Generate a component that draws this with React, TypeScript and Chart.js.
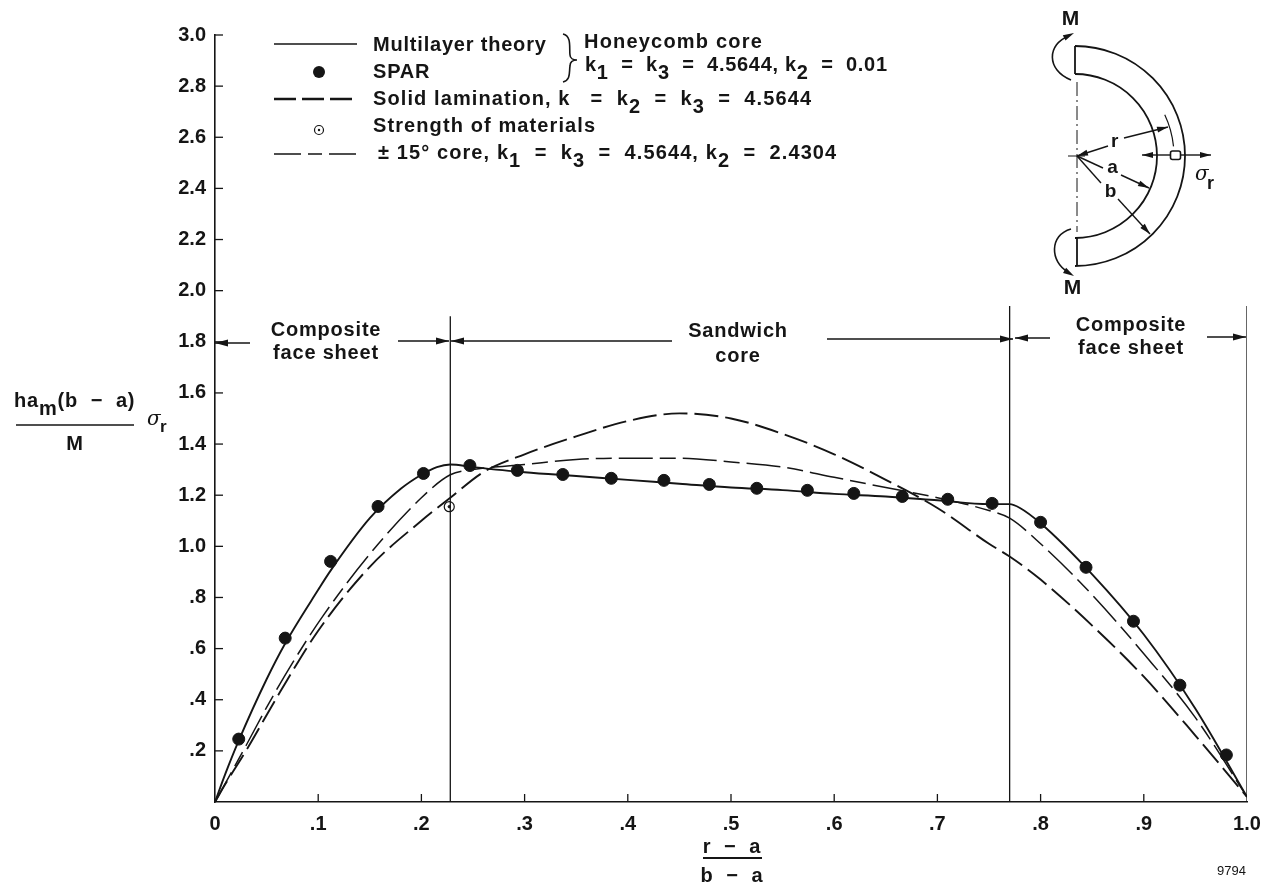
import React, { useEffect, useRef } from "react";
import { Chart, registerables } from "chart.js";

Chart.register(...registerables);

const sparX = [0.023, 0.068, 0.112, 0.158, 0.202, 0.247, 0.293, 0.337, 0.384, 0.435, 0.479, 0.525, 0.574, 0.619, 0.666, 0.71, 0.753, 0.8, 0.844, 0.89, 0.935, 0.98];
const sparY = [0.246, 0.641, 0.941, 1.156, 1.285, 1.316, 1.297, 1.281, 1.266, 1.258, 1.242, 1.227, 1.219, 1.207, 1.195, 1.184, 1.168, 1.094, 0.918, 0.707, 0.457, 0.184];

const multiX = [0, 0.01, 0.023, 0.05, 0.068, 0.1, 0.112, 0.15, 0.18, 0.2, 0.215, 0.228, 0.25, 0.3, 0.35, 0.4, 0.45, 0.5, 0.55, 0.6, 0.65, 0.7, 0.75, 0.77, 0.78, 0.8, 0.85, 0.9, 0.95, 1];
const multiY = [0, 0.11, 0.24, 0.48, 0.62, 0.83, 0.905, 1.11, 1.225, 1.28, 1.31, 1.32, 1.31, 1.29, 1.275, 1.26, 1.245, 1.23, 1.22, 1.205, 1.195, 1.18, 1.165, 1.165, 1.15, 1.09, 0.89, 0.655, 0.365, 0.02];

const solidX = [0, 0.01, 0.03, 0.063, 0.1, 0.15, 0.2, 0.228, 0.26, 0.3, 0.35, 0.4, 0.45, 0.5, 0.55, 0.6, 0.65, 0.7, 0.75, 0.77, 0.8, 0.85, 0.9, 0.95, 1];
const solidY = [0, 0.07, 0.2, 0.43, 0.67, 0.92, 1.1, 1.19, 1.29, 1.36, 1.43, 1.49, 1.52, 1.5, 1.44, 1.36, 1.26, 1.15, 1.01, 0.96, 0.87, 0.69, 0.49, 0.26, 0.02];

const coreX = [0, 0.03, 0.05, 0.076, 0.105, 0.15, 0.2, 0.228, 0.25, 0.3, 0.35, 0.4, 0.45, 0.5, 0.55, 0.6, 0.65, 0.7, 0.75, 0.77, 0.8, 0.85, 0.9, 0.95, 1];
const coreY = [0, 0.22, 0.37, 0.55, 0.73, 0.97, 1.19, 1.28, 1.3, 1.32, 1.34, 1.345, 1.345, 1.33, 1.31, 1.27, 1.23, 1.19, 1.14, 1.11, 1.01, 0.81, 0.58, 0.33, 0.02];

const strengthX = [0.227];
const strengthY = [1.155];

const boundaryX = [0.228, 0.77, 1];
const boundaryTop = [1.9, 1.94, 1.94];

const INK = "#151515";
const FONT = '"Liberation Sans"';

const zip = (xs: number[], ys: number[]) => xs.map((x, i) => ({ x, y: ys[i] }));

type Seg = [string, boolean?];

function textSegs(ctx: CanvasRenderingContext2D, x: number, y: number, segs: Seg[], ls = "0.8px", size = 20, weight = "bold") {
  ctx.save();
  ctx.fillStyle = INK;
  ctx.textAlign = "left";
  ctx.textBaseline = "middle";
  ctx.font = `${weight} ${size}px ${FONT}`;
  (ctx as any).letterSpacing = ls;
  let cx = x;
  for (const [s, sub] of segs) {
    ctx.fillText(s, cx, sub ? y + 8 : y);
    cx += ctx.measureText(s).width;
  }
  ctx.restore();
}

function centered(ctx: CanvasRenderingContext2D, s: string, x: number, y: number, size = 20) {
  ctx.save();
  ctx.fillStyle = INK;
  ctx.textAlign = "center";
  ctx.textBaseline = "middle";
  ctx.font = `bold ${size}px ${FONT}`;
  (ctx as any).letterSpacing = "0.8px";
  ctx.fillText(s, x, y);
  ctx.restore();
}

function line(ctx: CanvasRenderingContext2D, x1: number, y1: number, x2: number, y2: number, w = 1.4, dash: number[] = []) {
  ctx.save();
  ctx.strokeStyle = INK;
  ctx.lineWidth = w;
  ctx.setLineDash(dash);
  ctx.beginPath();
  ctx.moveTo(x1, y1);
  ctx.lineTo(x2, y2);
  ctx.stroke();
  ctx.restore();
}

function head(ctx: CanvasRenderingContext2D, x: number, y: number, fromX: number, fromY: number, len = 13, half = 3.5) {
  const a = Math.atan2(y - fromY, x - fromX);
  ctx.save();
  ctx.fillStyle = INK;
  ctx.translate(x, y);
  ctx.rotate(a);
  ctx.beginPath();
  ctx.moveTo(0, 0);
  ctx.lineTo(-len, -half);
  ctx.lineTo(-len, half);
  ctx.closePath();
  ctx.fill();
  ctx.restore();
}

function arrow(ctx: CanvasRenderingContext2D, x1: number, y1: number, x2: number, y2: number, w = 1.4, len = 13, half = 3.5) {
  line(ctx, x1, y1, x2, y2, w);
  head(ctx, x2, y2, x1, y1, len, half);
}

const overlay = {
  id: "overlay",
  afterDraw(chart: any) {
    const ctx: CanvasRenderingContext2D = chart.ctx;
    const xs = chart.scales.x;
    const ys = chart.scales.y;
    const left = xs.left;
    const bottom = ys.bottom;

    // inward tick marks
    xs.ticks.forEach((t: any) => {
      if (t.value > 0 && t.value < 1) {
        const p = xs.getPixelForValue(t.value);
        line(ctx, p, bottom, p, bottom - 8, 1.3);
      }
    });
    ys.ticks.forEach((t: any) => {
      if (t.value > 0) {
        const p = ys.getPixelForValue(t.value);
        line(ctx, left, p, left + 8, p, 1.3);
      }
    });

    // legend
    line(ctx, 274, 44, 357, 44, 1.5);
    ctx.fillStyle = INK;
    ctx.beginPath();
    ctx.arc(319, 72, 6, 0, Math.PI * 2);
    ctx.fill();
    line(ctx, 274, 99, 357, 99, 2.6, [22, 6]);
    ctx.lineWidth = 1.2;
    ctx.strokeStyle = INK;
    ctx.beginPath();
    ctx.arc(319, 130, 4.5, 0, Math.PI * 2);
    ctx.stroke();
    ctx.beginPath();
    ctx.arc(319, 130, 1.2, 0, Math.PI * 2);
    ctx.fill();
    line(ctx, 274, 154, 357, 154, 1.5, [27, 7, 14, 7]);

    textSegs(ctx, 373, 45, [["Multilayer theory"]]);
    textSegs(ctx, 373, 72, [["SPAR"]]);
    textSegs(ctx, 373, 99, [["Solid lamination, k   =  k"], ["2", true], ["  =  k"], ["3", true], ["  =  4.5644"]], "1.1px");
    textSegs(ctx, 373, 126, [["Strength of materials"]], "1.1px");
    textSegs(ctx, 378, 153, [["\u00b1 15\u00b0 core, k"], ["1", true], ["  =  k"], ["3", true], ["  =  4.5644, k"], ["2", true], ["  =  2.4304"]], "1.1px");
    textSegs(ctx, 584, 42, [["Honeycomb core"]], "1.2px");
    textSegs(ctx, 585, 65, [["k"], ["1", true], ["  =  k"], ["3", true], ["  =  4.5644, k"], ["2", true], ["  =  0.01"]], "0.7px");

    // brace
    ctx.save();
    ctx.strokeStyle = INK;
    ctx.lineWidth = 1.6;
    ctx.beginPath();
    ctx.moveTo(563, 34);
    ctx.bezierCurveTo(572, 36, 569, 48, 570, 55);
    ctx.bezierCurveTo(570, 58, 573, 60, 577, 60);
    ctx.bezierCurveTo(573, 60, 570, 62, 570, 66);
    ctx.bezierCurveTo(569, 72, 571, 80, 563, 82);
    ctx.stroke();
    ctx.restore();

    // regions
    centered(ctx, "Composite", 326, 330);
    centered(ctx, "face sheet", 326, 353);
    centered(ctx, "Sandwich", 738, 331);
    centered(ctx, "core", 738, 356);
    centered(ctx, "Composite", 1131, 325);
    centered(ctx, "face sheet", 1131, 348);

    arrow(ctx, 250, 343, 215, 343);
    arrow(ctx, 398, 341, 449, 341);
    arrow(ctx, 672, 341, 451, 341);
    arrow(ctx, 827, 339, 1013, 339);
    arrow(ctx, 1050, 338, 1015, 338);
    arrow(ctx, 1207, 337, 1246, 337);

    // y title
    textSegs(ctx, 14, 401, [["ha"], ["m", true], ["(b  \u2212  a)"]]);
    line(ctx, 16, 425, 134, 425, 1.6);
    centered(ctx, "M", 75, 444);
    ctx.save();
    ctx.fillStyle = INK;
    ctx.textBaseline = "middle";
    ctx.font = 'italic 20px "DejaVu Serif"';
    ctx.fillText("\u03c3", 147, 420);
    ctx.font = `bold 17px ${FONT}`;
    ctx.fillText("r", 160, 427);
    ctx.restore();

    // x title
    centered(ctx, "r  \u2212  a", 732, 847);
    line(ctx, 703, 858, 762, 858, 1.8);
    centered(ctx, "b  \u2212  a", 732, 876);

    ctx.save();
    ctx.fillStyle = INK;
    ctx.textBaseline = "middle";
    ctx.font = `13px ${FONT}`;
    ctx.fillText("9794", 1217, 871);
    ctx.restore();

    // inset diagram
    const cx = 1077;
    const cy = 156;
    ctx.save();
    ctx.strokeStyle = INK;
    ctx.lineWidth = 1.8;
    ctx.beginPath();
    ctx.arc(cx - 2, cy, 110, -Math.PI / 2, Math.PI / 2);
    ctx.stroke();
    ctx.beginPath();
    ctx.arc(cx - 2, cy, 82, -Math.PI / 2, Math.PI / 2);
    ctx.stroke();
    ctx.lineWidth = 1.2;
    ctx.beginPath();
    ctx.arc(cx, cy, 97, -0.44, -0.1);
    ctx.stroke();
    ctx.restore();
    line(ctx, 1075, 46, 1075, 74, 1.8);
    line(ctx, 1077, 237, 1077, 266, 1.8);
    line(ctx, cx, 82, cx, 232, 1, [14, 4, 2, 4]);
    line(ctx, 1068, cy, 1085, cy, 1);

    // r, a, b leaders
    arrow(ctx, 1108, 146, cx, cy, 1.4, 11, 3);
    arrow(ctx, 1124, 138, 1168, 127, 1.4, 11, 3);
    line(ctx, cx, cy, 1103, 168, 1.4);
    arrow(ctx, 1121, 175, 1149, 188, 1.4, 11, 3);
    line(ctx, cx, cy, 1101, 183, 1.4);
    arrow(ctx, 1118, 199, 1150, 234, 1.4, 11, 3);
    centered(ctx, "r", 1115, 142, 19);
    centered(ctx, "a", 1113, 168, 19);
    centered(ctx, "b", 1111, 192, 19);

    // stress element
    arrow(ctx, 1170, 155, 1142, 155, 1.4, 11, 3);
    arrow(ctx, 1180, 155, 1211, 155, 1.4, 11, 3);
    ctx.save();
    ctx.strokeStyle = INK;
    ctx.fillStyle = "#fff";
    ctx.lineWidth = 1.6;
    ctx.beginPath();
    ctx.roundRect(1170.5, 151, 10, 8.5, 2);
    ctx.fill();
    ctx.stroke();
    ctx.fillStyle = INK;
    ctx.textBaseline = "middle";
    ctx.font = 'italic 20px "DejaVu Serif"';
    ctx.fillText("\u03c3", 1195, 175);
    ctx.font = `bold 18px ${FONT}`;
    ctx.fillText("r", 1207, 184);
    ctx.restore();

    // moments
    centered(ctx, "M", 1071, 19, 21);
    centered(ctx, "M", 1073, 288, 21);
    ctx.save();
    ctx.strokeStyle = INK;
    ctx.lineWidth = 1.6;
    ctx.beginPath();
    ctx.moveTo(1071, 80);
    ctx.bezierCurveTo(1046, 70, 1047, 44, 1069, 36);
    ctx.stroke();
    ctx.beginPath();
    ctx.moveTo(1071, 229);
    ctx.bezierCurveTo(1049, 235, 1050, 262, 1068, 272);
    ctx.stroke();
    ctx.restore();
    head(ctx, 1074, 33, 1064, 38, 11, 3);
    head(ctx, 1074, 276, 1064, 270, 11, 3);
  },
};

export default function App() {
  const ref = useRef<HTMLCanvasElement>(null);
  useEffect(() => {
    const boundarySets = boundaryX.map((bx, i) => ({
      label: `boundary ${i}`,
      data: [{ x: bx, y: 0 }, { x: bx, y: boundaryTop[i] }],
      borderColor: INK,
      borderWidth: 1.3,
      pointRadius: 0,
      showLine: true,
    }));
    const chart = new Chart(ref.current as HTMLCanvasElement, {
      type: "scatter",
      data: {
        datasets: [
          { label: "Strength centre", data: zip(strengthX, strengthY), backgroundColor: INK, borderColor: INK, pointRadius: 1.2, showLine: false },
          { label: "Strength of materials", data: zip(strengthX, strengthY), backgroundColor: "rgba(0,0,0,0)", borderColor: INK, borderWidth: 1.2, pointRadius: 5, showLine: false },
          { label: "SPAR", data: zip(sparX, sparY), backgroundColor: INK, borderColor: INK, pointRadius: 6, showLine: false },
          ...boundarySets,
          { label: "Multilayer theory", data: zip(multiX, multiY), borderColor: INK, borderWidth: 1.9, pointRadius: 0, showLine: true, cubicInterpolationMode: "monotone" },
          { label: "Solid lamination", data: zip(solidX, solidY), borderColor: INK, borderWidth: 1.9, borderDash: [24, 7], pointRadius: 0, showLine: true, cubicInterpolationMode: "monotone" },
          { label: "\u00b1 15\u00b0 core", data: zip(coreX, coreY), borderColor: INK, borderWidth: 1.5, borderDash: [34, 7, 16, 7], pointRadius: 0, showLine: true, cubicInterpolationMode: "monotone" },
        ] as any,
      },
      options: {
        responsive: false,
        animation: false,
        layout: { padding: { left: 0, top: 35, right: 30, bottom: 0 } },
        plugins: { legend: { display: false }, tooltip: { enabled: false } },
        scales: {
          x: {
            type: "linear",
            min: 0,
            max: 1,
            grid: { display: false },
            border: { display: true, color: INK, width: 1.6 },
            afterFit: (s: any) => { s.height = 89; },
            ticks: {
              stepSize: 0.1,
              maxRotation: 0,
              autoSkip: false,
              padding: 2,
              color: INK,
              font: { family: FONT, weight: "bold", size: 20 },
              callback: (v: any) => {
                const n = Number(v);
                if (n === 0) return "0";
                if (n >= 1) return "1.0";
                return n.toFixed(1).replace(/^0/, "");
              },
            },
          },
          y: {
            type: "linear",
            min: 0,
            max: 3,
            grid: { display: false },
            border: { display: true, color: INK, width: 1.6 },
            afterFit: (s: any) => { s.width = 215; },
            ticks: {
              stepSize: 0.2,
              autoSkip: false,
              padding: 1,
              color: INK,
              font: { family: FONT, weight: "bold", size: 20 },
              callback: (v: any) => {
                const n = Number(v);
                if (n < 0.01) return "";
                return n >= 0.99 ? n.toFixed(1) : n.toFixed(1).replace(/^0/, "");
              },
            },
          },
        },
      } as any,
      plugins: [overlay],
    });
    return () => chart.destroy();
  }, []);
  return (
    <canvas
      ref={ref}
      width={1277}
      height={891}
      style={{ position: "fixed", left: 0, top: 0, width: 1277, height: 891, background: "#fff" }}
    />
  );
}
